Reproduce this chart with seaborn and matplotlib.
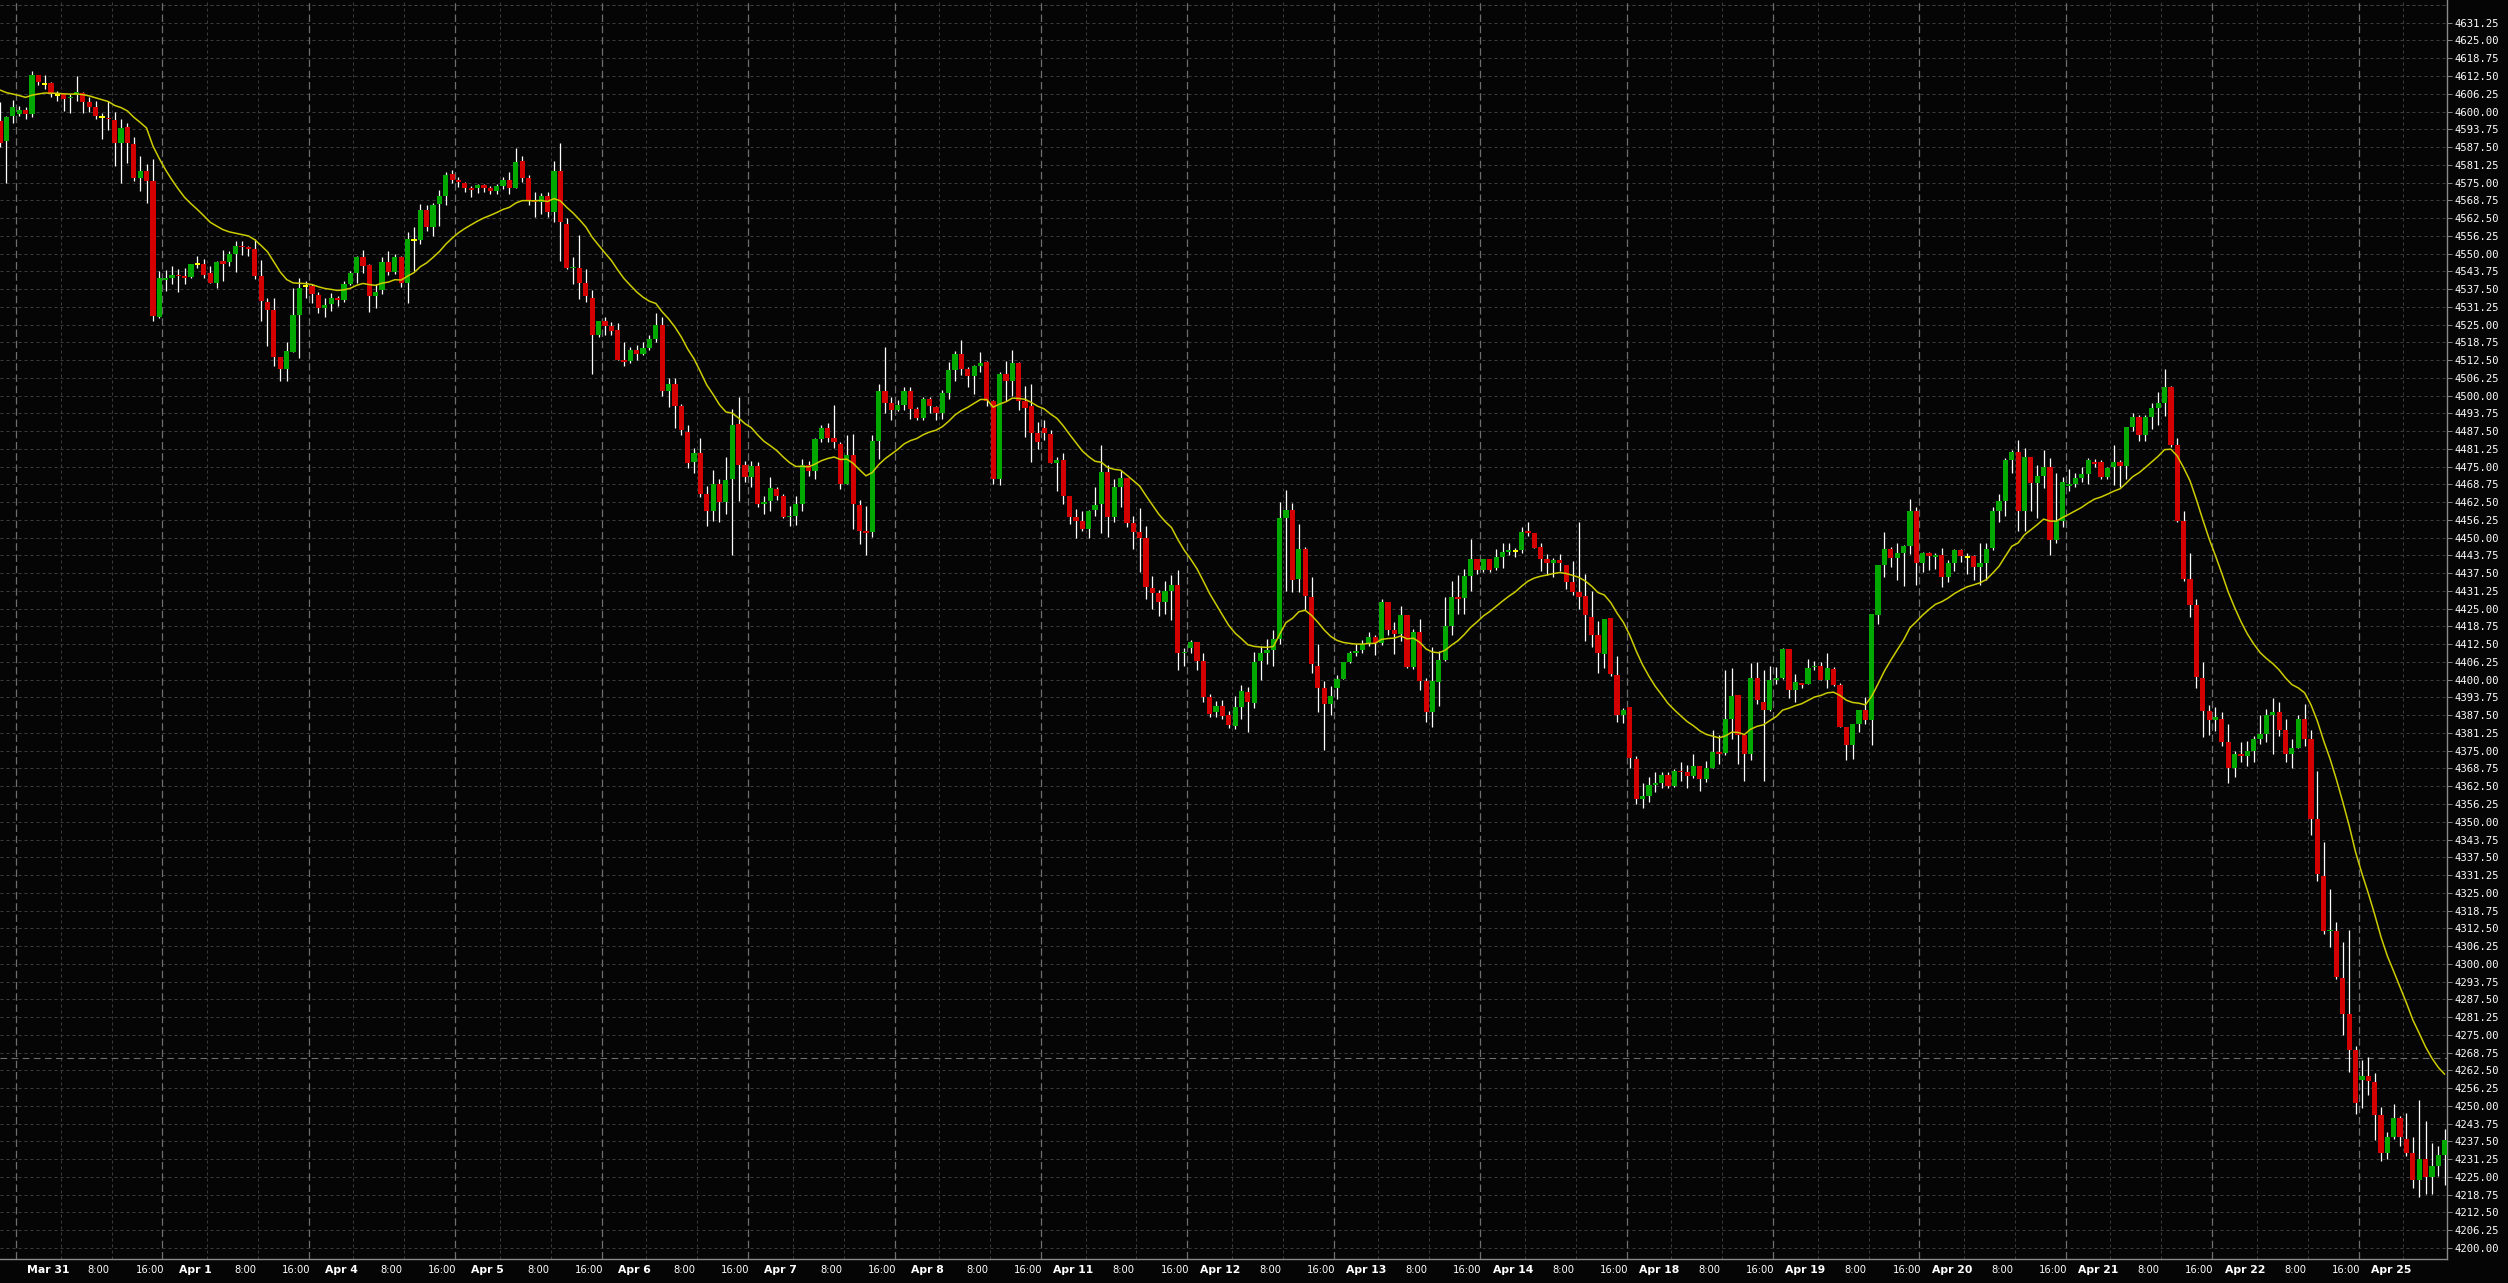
"""
ES 1-hour candlestick chart (Mar 31 - Apr 25) with a 20-period EMA, MT4 style
"""
import matplotlib
matplotlib.use("Agg")
import matplotlib.pyplot as plt
import numpy as np
import pandas as pd
import seaborn as sns

# hourly bars (index 0 = first bar at the left edge)
opens = [
    4596.75, 4589.5, 4598.25, 4599.0, 4600.5, 4599.0, 4613.0, 4609.75, 4610.0, 4605.75,
    4606.0, 4604.75, 4605.75, 4606.5, 4603.5, 4601.75, 4598.0, 4597.75, 4597.0, 4589.0,
    4594.5, 4588.5, 4576.75, 4579.0, 4575.5, 4527.75, 4540.75, 4541.5, 4542.5, 4542.0,
    4541.75, 4546.25, 4546.5, 4543.0, 4539.5, 4547.25, 4547.0, 4550.0, 4552.75, 4552.25,
    4551.5, 4542.25, 4533.0, 4530.0, 4513.5, 4509.5, 4515.5, 4528.25, 4538.5, 4538.5,
    4535.25, 4531.0, 4532.25, 4534.25, 4533.75, 4539.25, 4543.0, 4548.75, 4546.0, 4535.0,
    4537.0, 4547.0, 4543.5, 4548.75, 4539.75, 4554.75, 4554.75, 4565.25, 4559.5, 4567.5,
    4570.25, 4578.0, 4576.0, 4575.0, 4573.25, 4573.25, 4574.0, 4573.0, 4572.0, 4573.75,
    4576.0, 4573.25, 4582.5, 4576.75, 4568.75, 4568.25, 4570.25, 4564.5, 4579.0, 4560.25,
    4544.75, 4545.0, 4539.5, 4534.5, 4521.5, 4526.25, 4524.5, 4523.0, 4512.5, 4512.25,
    4516.0, 4514.5, 4516.75, 4520.0, 4525.0, 4501.5, 4504.0, 4496.25, 4487.25, 4476.5,
    4479.75, 4465.25, 4459.25, 4468.75, 4462.5, 4470.5, 4490.0, 4475.75, 4471.25, 4475.25,
    4462.0, 4462.75, 4467.25, 4464.5, 4457.25, 4457.5, 4462.0, 4475.5, 4473.5, 4484.75,
    4488.5, 4485.25, 4483.0, 4469.0, 4479.0, 4461.5, 4452.25, 4452.0, 4484.0, 4501.75,
    4497.5, 4495.0, 4496.75, 4501.5, 4495.25, 4492.0, 4498.75, 4496.0, 4493.75, 4501.0,
    4509.0, 4514.5, 4509.25, 4507.0, 4510.5, 4511.75, 4498.25, 4470.5, 4507.5, 4505.25,
    4511.5, 4498.0, 4496.25, 4487.0, 4488.75, 4486.5, 4476.25, 4477.25, 4464.5, 4457.25,
    4456.0, 4453.0, 4459.75, 4461.75, 4473.0, 4457.25, 4468.0, 4471.0, 4455.25, 4452.0,
    4449.75, 4432.25, 4430.5, 4427.25, 4431.25, 4433.5, 4409.25, 4411.0, 4413.25, 4406.5,
    4393.75, 4388.5, 4390.75, 4387.5, 4383.75, 4390.5, 4395.75, 4391.75, 4406.5, 4409.25,
    4410.5, 4414.5, 4456.75, 4459.75, 4435.5, 4446.0, 4429.25, 4405.0, 4397.25, 4391.5,
    4397.0, 4400.25, 4406.25, 4409.5, 4410.5, 4412.75, 4415.0, 4413.0, 4427.5, 4417.5,
    4416.25, 4422.75, 4404.5, 4416.75, 4399.5, 4388.5, 4399.25, 4407.0, 4419.0, 4429.25,
    4428.75, 4436.5, 4442.5, 4438.5, 4442.5, 4439.25, 4443.25, 4445.0, 4445.25, 4445.75,
    4452.25, 4451.5, 4446.75, 4442.5, 4441.0, 4442.25, 4440.5, 4434.25, 4430.75, 4429.5,
    4422.25, 4415.75, 4409.0, 4421.75, 4401.5, 4387.75, 4390.25, 4372.25, 4358.0, 4359.0,
    4363.0, 4363.75, 4366.5, 4362.75, 4368.0, 4367.5, 4366.25, 4369.5, 4365.0, 4369.0,
    4374.5, 4374.25, 4386.25, 4394.5, 4380.5, 4374.0, 4400.5, 4392.25, 4389.25, 4399.75,
    4400.5, 4410.75, 4396.5, 4399.0, 4398.5, 4404.5, 4404.75, 4399.75, 4403.75, 4398.0,
    4383.5, 4377.0, 4384.25, 4389.25, 4385.75, 4422.75, 4440.25, 4446.0, 4443.0, 4444.5,
    4447.0, 4459.25, 4441.0, 4444.5, 4443.25, 4443.75, 4436.25, 4441.25, 4445.5, 4443.25,
    4443.5, 4439.75, 4441.25, 4446.5, 4459.25, 4463.0, 4477.5, 4480.0, 4459.25, 4478.5,
    4469.25, 4471.75, 4475.0, 4449.25, 4455.75, 4468.25, 4469.0, 4471.0, 4472.25, 4476.75,
    4476.5, 4471.25, 4474.75, 4476.5, 4475.25, 4489.0, 4492.5, 4486.0, 4492.5, 4495.75,
    4497.25, 4503.0, 4482.5, 4456.0, 4435.5, 4426.25, 4400.75, 4389.0, 4385.75, 4386.25,
    4378.0, 4369.0, 4373.75, 4373.25, 4375.0, 4379.25, 4380.75, 4387.5, 4388.5, 4382.25,
    4374.0, 4376.0, 4386.0, 4379.0, 4351.0, 4330.75, 4311.5, 4311.5, 4295.0, 4282.25,
    4269.5, 4259.25, 4260.5, 4258.25, 4246.75, 4233.5, 4239.0, 4245.75, 4238.25, 4233.5,
    4223.75, 4231.25, 4225.0, 4229.0, 4232.75,
]
highs = [
    4603.25, 4598.5, 4604.0, 4602.0, 4601.5, 4614.25, 4613.0, 4613.0, 4610.5, 4607.25,
    4606.25, 4606.0, 4612.5, 4606.75, 4605.0, 4603.75, 4599.5, 4603.75, 4600.0, 4597.25,
    4596.0, 4591.0, 4584.5, 4581.5, 4583.25, 4544.0, 4544.25, 4545.5, 4544.5, 4545.0,
    4546.5, 4549.25, 4548.0, 4545.75, 4547.5, 4551.25, 4551.0, 4554.25, 4554.25, 4552.75,
    4555.0, 4547.75, 4534.5, 4534.5, 4513.75, 4519.0, 4538.0, 4541.5, 4540.5, 4539.25,
    4536.5, 4534.5, 4536.0, 4535.0, 4540.25, 4544.0, 4549.0, 4551.25, 4546.25, 4539.25,
    4548.75, 4551.0, 4550.0, 4549.25, 4557.5, 4559.5, 4567.5, 4567.0, 4567.75, 4572.25,
    4578.75, 4579.5, 4577.0, 4575.25, 4573.75, 4574.5, 4574.5, 4573.75, 4574.5, 4577.0,
    4578.75, 4587.25, 4584.25, 4577.75, 4571.5, 4571.25, 4571.5, 4582.5, 4588.75, 4562.5,
    4548.75, 4556.5, 4544.5, 4537.25, 4526.25, 4527.5, 4526.0, 4525.5, 4519.0, 4517.25,
    4517.75, 4518.75, 4521.5, 4529.0, 4527.75, 4506.25, 4506.25, 4497.0, 4489.5, 4481.5,
    4485.25, 4468.25, 4473.75, 4470.75, 4478.5, 4495.25, 4499.5, 4477.0, 4477.0, 4476.5,
    4464.5, 4471.5, 4468.0, 4465.25, 4461.0, 4464.75, 4477.75, 4477.0, 4485.0, 4489.5,
    4490.25, 4496.75, 4483.5, 4486.25, 4486.5, 4463.25, 4461.0, 4486.25, 4504.25, 4517.25,
    4499.5, 4498.5, 4503.0, 4503.0, 4496.0, 4499.5, 4499.5, 4496.5, 4502.0, 4512.0,
    4515.75, 4519.5, 4510.0, 4510.75, 4515.25, 4512.25, 4498.5, 4508.25, 4512.25, 4516.0,
    4512.0, 4503.25, 4504.0, 4490.75, 4491.25, 4487.75, 4478.5, 4479.75, 4464.75, 4460.0,
    4459.25, 4459.75, 4467.75, 4482.75, 4475.75, 4470.5, 4473.75, 4471.0, 4457.5, 4460.5,
    4454.25, 4436.5, 4431.75, 4434.75, 4437.0, 4438.75, 4411.0, 4414.0, 4413.25, 4409.25,
    4395.0, 4392.5, 4392.75, 4389.0, 4394.25, 4398.25, 4397.5, 4409.75, 4412.0, 4414.25,
    4417.5, 4462.5, 4466.75, 4462.25, 4454.75, 4446.75, 4436.0, 4412.5, 4399.5, 4397.75,
    4401.5, 4406.25, 4410.25, 4412.5, 4414.0, 4416.75, 4415.75, 4428.25, 4427.5, 4420.25,
    4426.0, 4422.75, 4417.75, 4421.5, 4400.75, 4411.5, 4410.25, 4429.0, 4434.75, 4437.0,
    4439.0, 4449.5, 4442.5, 4442.5, 4442.5, 4446.0, 4448.25, 4448.0, 4446.5, 4453.75,
    4455.5, 4451.5, 4448.0, 4444.25, 4442.75, 4444.25, 4440.5, 4441.75, 4455.5, 4437.25,
    4431.25, 4420.5, 4421.5, 4421.75, 4408.5, 4390.0, 4390.25, 4373.0, 4363.75, 4365.75,
    4367.5, 4367.5, 4367.5, 4368.5, 4371.0, 4370.0, 4373.75, 4369.5, 4371.5, 4382.25,
    4380.5, 4403.25, 4404.0, 4394.5, 4381.0, 4406.0, 4406.25, 4403.25, 4405.0, 4404.5,
    4411.25, 4410.75, 4402.0, 4399.0, 4407.25, 4406.75, 4406.25, 4409.5, 4404.5, 4398.75,
    4383.5, 4384.25, 4389.25, 4394.0, 4423.0, 4440.25, 4452.0, 4446.75, 4448.0, 4447.5,
    4463.5, 4460.75, 4445.0, 4445.0, 4444.5, 4446.5, 4442.0, 4446.0, 4446.0, 4444.5,
    4444.0, 4448.0, 4448.0, 4460.75, 4465.25, 4478.0, 4480.75, 4484.25, 4481.5, 4478.5,
    4475.75, 4481.0, 4478.0, 4472.75, 4471.25, 4474.0, 4472.75, 4475.0, 4478.0, 4477.75,
    4477.5, 4475.0, 4482.5, 4477.25, 4489.0, 4493.75, 4493.0, 4493.0, 4497.25, 4501.25,
    4509.25, 4503.5, 4485.25, 4459.5, 4444.75, 4428.25, 4406.25, 4391.0, 4390.5, 4388.5,
    4384.25, 4374.75, 4378.25, 4378.5, 4380.25, 4387.75, 4389.75, 4393.5, 4392.25, 4386.25,
    4379.25, 4387.5, 4391.5, 4382.25, 4367.75, 4343.0, 4326.5, 4314.75, 4307.75, 4311.75,
    4271.0, 4266.25, 4267.25, 4261.5, 4249.75, 4240.75, 4250.5, 4246.5, 4247.5, 4239.0,
    4252.0, 4244.5, 4237.0, 4236.0, 4241.75,
]
lows = [
    4587.5, 4574.75, 4596.0, 4598.5, 4597.5, 4598.0, 4609.25, 4607.75, 4605.0, 4603.75,
    4600.25, 4599.5, 4603.75, 4599.5, 4600.0, 4597.25, 4590.25, 4593.5, 4580.75, 4574.75,
    4582.0, 4575.5, 4572.0, 4567.75, 4526.25, 4527.25, 4536.75, 4539.25, 4536.5, 4539.25,
    4541.5, 4545.0, 4541.5, 4539.5, 4538.0, 4540.5, 4545.75, 4543.5, 4549.5, 4549.0,
    4541.0, 4526.25, 4517.5, 4510.5, 4505.25, 4505.25, 4515.25, 4513.25, 4534.5, 4532.75,
    4529.0, 4527.5, 4529.75, 4531.5, 4533.0, 4539.0, 4539.75, 4543.0, 4529.5, 4530.75,
    4535.75, 4542.5, 4542.75, 4538.25, 4532.5, 4544.0, 4553.25, 4558.0, 4556.25, 4559.75,
    4567.0, 4574.75, 4573.5, 4571.75, 4570.0, 4571.25, 4571.75, 4571.0, 4571.0, 4572.75,
    4571.0, 4573.0, 4575.25, 4567.0, 4562.75, 4563.75, 4563.0, 4561.0, 4547.25, 4544.5,
    4539.25, 4534.0, 4533.0, 4507.5, 4520.75, 4521.5, 4521.5, 4512.5, 4510.5, 4511.5,
    4512.5, 4514.25, 4516.0, 4519.0, 4500.0, 4496.0, 4488.5, 4486.0, 4474.5, 4472.75,
    4464.25, 4454.25, 4455.75, 4455.5, 4458.5, 4444.0, 4462.75, 4469.5, 4468.0, 4460.75,
    4458.5, 4459.5, 4463.25, 4456.75, 4454.0, 4454.5, 4459.5, 4471.75, 4470.75, 4483.5,
    4483.5, 4481.5, 4467.0, 4468.75, 4453.0, 4447.75, 4444.0, 4450.25, 4477.75, 4494.0,
    4491.5, 4494.75, 4495.0, 4491.75, 4491.5, 4491.5, 4493.75, 4491.5, 4491.75, 4498.75,
    4505.25, 4507.25, 4503.0, 4500.5, 4508.25, 4496.25, 4468.75, 4468.5, 4498.25, 4500.0,
    4495.0, 4485.5, 4476.5, 4481.25, 4484.25, 4476.25, 4466.5, 4462.0, 4454.75, 4450.0,
    4452.25, 4449.75, 4457.75, 4451.5, 4450.25, 4455.5, 4460.75, 4453.75, 4446.0, 4437.75,
    4428.5, 4424.75, 4422.5, 4423.25, 4421.0, 4403.25, 4404.75, 4409.5, 4403.25, 4392.25,
    4386.75, 4387.0, 4386.0, 4383.0, 4382.5, 4386.0, 4381.75, 4390.0, 4400.0, 4405.5,
    4404.75, 4412.5, 4431.25, 4431.0, 4431.0, 4424.5, 4402.5, 4388.75, 4375.25, 4387.5,
    4393.25, 4400.25, 4405.75, 4408.25, 4409.25, 4411.75, 4408.75, 4412.25, 4415.75, 4409.0,
    4413.75, 4404.0, 4403.75, 4396.5, 4385.0, 4383.5, 4390.75, 4406.5, 4415.75, 4423.25,
    4423.25, 4431.25, 4437.25, 4437.75, 4438.0, 4438.5, 4439.25, 4444.0, 4443.25, 4444.75,
    4450.5, 4446.25, 4438.25, 4437.0, 4436.25, 4438.25, 4432.0, 4429.75, 4424.75, 4413.5,
    4411.5, 4402.5, 4404.25, 4401.25, 4385.25, 4384.75, 4369.0, 4356.25, 4355.0, 4357.0,
    4360.5, 4361.75, 4361.75, 4362.25, 4364.5, 4361.75, 4365.25, 4361.0, 4364.0, 4369.0,
    4370.5, 4373.5, 4379.25, 4370.5, 4364.5, 4371.75, 4391.5, 4364.5, 4389.0, 4398.5,
    4400.25, 4393.5, 4392.25, 4397.25, 4398.5, 4403.25, 4399.75, 4397.0, 4397.75, 4383.25,
    4371.75, 4372.25, 4381.5, 4384.25, 4377.0, 4419.75, 4436.0, 4439.5, 4435.25, 4433.0,
    4444.25, 4433.5, 4438.0, 4438.75, 4439.0, 4432.75, 4434.5, 4438.25, 4441.5, 4437.25,
    4435.0, 4433.5, 4435.0, 4445.5, 4455.5, 4457.75, 4472.75, 4452.5, 4452.25, 4459.5,
    4456.75, 4467.5, 4443.75, 4448.0, 4453.75, 4466.5, 4468.0, 4469.5, 4469.0, 4474.75,
    4470.5, 4470.75, 4468.5, 4468.0, 4470.5, 4487.5, 4484.0, 4484.0, 4488.25, 4489.5,
    4492.75, 4481.75, 4455.5, 4434.75, 4422.0, 4397.0, 4380.0, 4380.5, 4382.0, 4376.5,
    4363.5, 4365.75, 4371.0, 4369.5, 4371.0, 4377.5, 4378.0, 4374.0, 4380.25, 4371.0,
    4369.0, 4376.0, 4376.5, 4345.5, 4329.0, 4310.5, 4305.75, 4294.5, 4275.0, 4262.0,
    4247.25, 4249.25, 4254.0, 4238.0, 4230.5, 4231.25, 4238.5, 4236.0, 4232.25, 4221.0,
    4218.0, 4219.0, 4219.0, 4225.25, 4222.0,
]
closes = [
    4589.0, 4598.0, 4601.5, 4600.5, 4599.0, 4613.0, 4610.25, 4609.75, 4606.0, 4605.75,
    4604.5, 4605.25, 4606.75, 4603.5, 4601.5, 4598.25, 4598.0, 4597.25, 4589.0, 4594.25,
    4589.0, 4576.75, 4579.0, 4575.5, 4528.0, 4541.25, 4541.25, 4542.5, 4542.0, 4541.5,
    4546.5, 4546.25, 4542.5, 4539.5, 4547.0, 4546.5, 4550.0, 4552.75, 4552.25, 4551.5,
    4542.25, 4533.25, 4530.0, 4513.5, 4509.5, 4515.75, 4528.5, 4538.0, 4538.5, 4535.75,
    4531.0, 4532.0, 4534.25, 4533.5, 4539.25, 4543.0, 4548.75, 4545.75, 4535.0, 4536.5,
    4547.0, 4543.5, 4548.75, 4539.5, 4555.25, 4554.75, 4565.25, 4559.5, 4567.0, 4570.25,
    4577.75, 4575.75, 4575.25, 4573.25, 4572.5, 4574.0, 4573.0, 4572.0, 4573.75, 4576.0,
    4573.25, 4582.25, 4576.75, 4568.5, 4568.0, 4570.25, 4564.5, 4579.0, 4561.0, 4544.75,
    4545.25, 4539.75, 4535.0, 4521.5, 4526.25, 4524.5, 4522.75, 4512.5, 4512.0, 4516.0,
    4514.5, 4516.75, 4520.0, 4525.0, 4501.5, 4504.0, 4496.25, 4487.75, 4476.25, 4479.75,
    4465.5, 4459.25, 4468.75, 4462.5, 4470.25, 4489.75, 4475.75, 4471.25, 4475.25, 4462.0,
    4462.5, 4467.5, 4464.5, 4457.25, 4457.5, 4462.0, 4475.5, 4473.5, 4484.75, 4488.5,
    4485.25, 4483.5, 4469.0, 4479.0, 4462.0, 4452.5, 4451.5, 4484.0, 4501.75, 4497.5,
    4495.0, 4496.75, 4501.5, 4495.25, 4492.0, 4498.75, 4496.25, 4493.75, 4501.0, 4509.0,
    4514.5, 4509.25, 4507.0, 4510.5, 4511.5, 4498.25, 4470.5, 4507.5, 4505.25, 4511.5,
    4498.0, 4495.75, 4487.0, 4483.5, 4486.75, 4476.25, 4477.5, 4464.5, 4457.25, 4455.75,
    4453.0, 4459.5, 4461.5, 4473.0, 4457.25, 4468.0, 4471.0, 4455.25, 4452.0, 4450.0,
    4432.5, 4430.5, 4427.5, 4431.25, 4433.5, 4409.25, 4409.75, 4413.25, 4406.5, 4393.75,
    4388.0, 4390.75, 4387.25, 4384.0, 4390.5, 4396.0, 4392.0, 4406.25, 4409.25, 4410.5,
    4414.5, 4456.75, 4459.75, 4435.25, 4446.0, 4429.5, 4405.5, 4397.25, 4391.5, 4394.25,
    4400.25, 4406.25, 4409.5, 4410.25, 4412.5, 4415.0, 4413.0, 4427.5, 4417.5, 4416.0,
    4422.75, 4404.5, 4416.75, 4399.5, 4388.5, 4399.5, 4407.0, 4419.0, 4429.25, 4428.5,
    4436.5, 4442.5, 4438.5, 4442.5, 4438.75, 4443.25, 4445.0, 4445.75, 4445.25, 4452.0,
    4451.5, 4446.25, 4442.5, 4441.0, 4442.25, 4441.0, 4434.25, 4430.75, 4429.0, 4422.75,
    4415.75, 4409.25, 4421.5, 4402.0, 4387.75, 4389.25, 4372.5, 4358.0, 4359.0, 4363.0,
    4363.75, 4366.5, 4362.75, 4367.75, 4367.5, 4366.25, 4369.5, 4365.0, 4369.0, 4374.5,
    4373.75, 4386.25, 4394.25, 4380.5, 4374.0, 4400.5, 4393.0, 4389.25, 4399.75, 4400.5,
    4410.75, 4396.5, 4399.25, 4398.0, 4404.0, 4405.0, 4399.75, 4404.0, 4398.0, 4383.5,
    4377.0, 4384.25, 4389.25, 4385.75, 4423.0, 4440.25, 4446.0, 4443.0, 4444.5, 4447.0,
    4459.25, 4441.0, 4444.75, 4443.5, 4443.75, 4436.25, 4441.0, 4445.5, 4443.5, 4443.25,
    4439.75, 4441.0, 4446.0, 4459.25, 4463.0, 4477.25, 4480.0, 4459.25, 4478.5, 4469.25,
    4471.75, 4475.0, 4449.25, 4455.75, 4469.5, 4469.0, 4471.0, 4472.25, 4477.25, 4476.0,
    4471.25, 4474.5, 4476.5, 4475.25, 4489.0, 4492.5, 4486.0, 4492.5, 4495.5, 4497.25,
    4503.0, 4482.5, 4455.75, 4435.5, 4426.25, 4401.0, 4389.0, 4385.75, 4386.75, 4378.0,
    4369.0, 4373.75, 4373.25, 4375.0, 4379.25, 4380.75, 4387.5, 4388.5, 4382.25, 4374.0,
    4376.0, 4386.0, 4379.0, 4351.0, 4331.5, 4311.5, 4312.0, 4295.5, 4282.25, 4269.5,
    4251.0, 4260.5, 4258.75, 4246.75, 4233.5, 4239.0, 4245.75, 4239.0, 4233.5, 4223.75,
    4231.25, 4225.0, 4229.0, 4232.75, 4238.0,
]

# trading days shown on the time axis (23 hourly bars each)
day_labels = ["Mar 31", "Apr 1", "Apr 4", "Apr 5", "Apr 6", "Apr 7", "Apr 8", "Apr 11",
              "Apr 12", "Apr 13", "Apr 14", "Apr 18", "Apr 19", "Apr 20", "Apr 21",
              "Apr 22", "Apr 25"]
time_labels = ["8:00", "16:00"]
first_day_bar = 3          # first bar of Mar 31
bars_per_day = 23
time_offsets = [7, 15]     # bars from day start to 8:00 / 16:00

ma_span = 20               # yellow moving average (EMA)
ma_start = 4609.5          # MA level just left of the first bar
last_price = 4267.0        # grey dashed level line

# colours (MT4 black scheme)
bg = "#050505"
bull = "#00a800"
bear = "#d40000"
doji = "#ffff00"
wick = "#ffffff"
ma_color = "#cccc00"
grid_c = "#3c3c3c"
day_c = "#6e6e6e"
axis_c = "#8a8a8a"

sns.set_theme(style="dark", rc={"axes.facecolor": bg, "figure.facecolor": bg,
                                "axes.edgecolor": axis_c, "text.color": "white"})
plt.rcParams["font.family"] = ["DejaVu Sans"]

df = pd.DataFrame({"open": opens, "high": highs, "low": lows, "close": closes})
df["bar"] = np.arange(len(df))
df["ma"] = pd.Series([ma_start] + closes).ewm(span=ma_span, adjust=False).mean().iloc[1:].values

W, H = 2508, 1283
fig = plt.figure(figsize=(W / 100, H / 100), dpi=100)
ax = fig.add_axes([0, 24 / H, 2447 / W, 1259 / H])
ax.set_facecolor(bg)

x_min = -0.02
x_max = x_min + 2447 / 6.366
y_min, y_max = 4196.1, 4639.25

# grid
yticks = np.arange(4200.0, 4637.6, 6.25)
for y in yticks:
    ax.axhline(y, color=grid_c, lw=0.72, ls=(0, (3, 3)), zorder=0)
ax.axhline(4637.5, color=grid_c, lw=0.72, ls=(0, (3, 3)), zorder=0)

for d, lab in enumerate(day_labels):
    line_x = first_day_bar - 0.5 + d * bars_per_day
    ax.axvline(line_x, color=day_c, lw=0.9, ls=(0, (6, 3)), zorder=0)
    if line_x + 5.1 < x_max - 3:
        ax.text(line_x + 5.1, -11 / 1259, lab, transform=ax.get_xaxis_transform(),
                ha="center", va="center", fontsize=7.8, fontweight="bold",
                color="white", clip_on=False)
    for off, tl in zip(time_offsets, time_labels):
        tx = line_x + off
        if tx < x_max:
            ax.axvline(tx, color=grid_c, lw=0.72, ls=(0, (3, 3)), zorder=0)
        if tx + 6.0 < x_max - 4:
            ax.text(tx + 6.0, -11 / 1259, tl, transform=ax.get_xaxis_transform(),
                    ha="center", va="center", fontsize=7.2, color="white", clip_on=False)

ax.axhline(last_price, color=day_c, lw=0.8, ls=(0, (6, 4)), zorder=0)

# candles
ax.vlines(df["bar"], df["low"], df["high"], color=wick, lw=0.9, zorder=2)
up = df[df["close"] > df["open"]]
dn = df[df["close"] < df["open"]]
fl = df[df["close"] == df["open"]]
ax.bar(up["bar"], np.maximum(up["close"] - up["open"], 0.35), bottom=up["open"],
       width=0.82, color=bull, linewidth=0, zorder=3)
ax.bar(dn["bar"], np.maximum(dn["open"] - dn["close"], 0.35), bottom=dn["close"],
       width=0.82, color=bear, linewidth=0, zorder=3)
ax.bar(fl["bar"], 0.75, bottom=fl["close"] - 0.375,
       width=0.82, color=doji, linewidth=0, zorder=3)

# moving average
sns.lineplot(data=df, x="bar", y="ma", color=ma_color, lw=1.1, ax=ax, zorder=4)

ax.set_xlim(x_min, x_max)
ax.set_ylim(y_min, y_max)
ax.set_xlabel("")
ax.set_ylabel("")
ax.set_xticks([])
ax.set_yticks(yticks[yticks <= 4631.3])
ax.set_yticklabels([f"{v:.2f}" for v in yticks[yticks <= 4631.3]],
                   fontfamily="DejaVu Sans Mono", fontsize=7.6, color="white")
ax.yaxis.tick_right()
ax.tick_params(axis="y", which="both", length=3.5, width=0.7, color=axis_c, pad=2,
               right=True, left=False)
ax.grid(False)

for side in ["left", "top"]:
    ax.spines[side].set_visible(False)
for side in ["right", "bottom"]:
    ax.spines[side].set_visible(True)
    ax.spines[side].set_color(axis_c)
    ax.spines[side].set_linewidth(1.0)

fig.savefig("out.png", dpi=100, facecolor=bg)
print("saved out.png")
